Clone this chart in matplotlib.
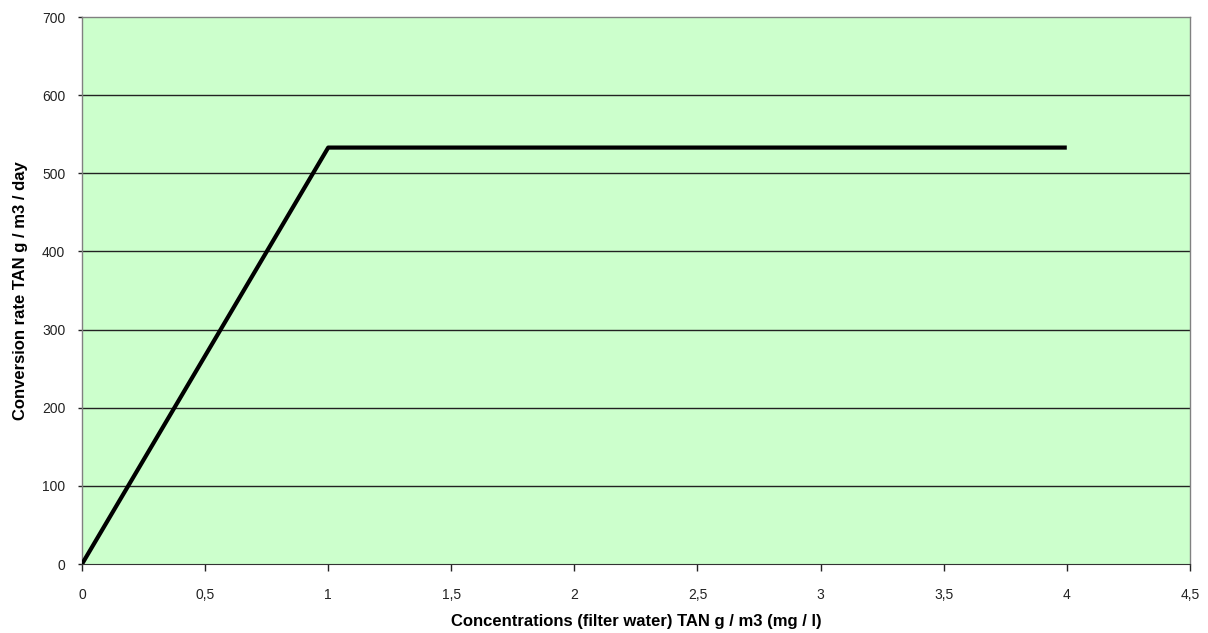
import matplotlib
matplotlib.use("Agg")
import matplotlib.pyplot as plt
from matplotlib.ticker import FuncFormatter

conc = [0, 1, 4]
rate = [0, 533, 533]
xticks = [0, 0.5, 1, 1.5, 2, 2.5, 3, 3.5, 4, 4.5]
yticks = [0, 100, 200, 300, 400, 500, 600, 700]

plt.rcParams['font.family'] = ['Liberation Sans', 'DejaVu Sans']
fig = plt.figure(figsize=(12.08, 6.33), dpi=100)
ax = fig.add_axes([0.0679, 0.109, 0.9171, 0.864])
ax.set_facecolor('#ccffcc')
ax.set_xlim(0, 4.5)
ax.set_ylim(0, 700)
ax.set_xticks(xticks)
ax.set_yticks(yticks)
ax.xaxis.set_major_formatter(FuncFormatter(lambda v, p: ('%g' % v).replace('.', ',')))
ax.yaxis.set_major_formatter(FuncFormatter(lambda v, p: '%d' % v))
for y in yticks[1:-1]:
    ax.axhline(y, color='#222222', lw=1.0, zorder=1)
ax.plot(conc, rate, color='black', lw=3, zorder=3, solid_capstyle='butt')
for s in ['top', 'right', 'left']:
    ax.spines[s].set_color('#808080')
    ax.spines[s].set_linewidth(1.0)
ax.spines['bottom'].set_color('#333333')
ax.tick_params(axis='x', direction='out', length=5, width=1, colors='#222222', labelsize=10, pad=12)
ax.tick_params(axis='y', direction='out', length=3, width=1, colors='#222222', labelsize=10, pad=9)
ax.set_xlabel('Concentrations (filter water) TAN g / m3 (mg / l)', fontsize=12, fontweight='bold', labelpad=9)
ax.set_ylabel('Conversion rate TAN g / m3 / day', fontsize=12, fontweight='bold', labelpad=10)
fig.savefig('out.png', dpi=100)
